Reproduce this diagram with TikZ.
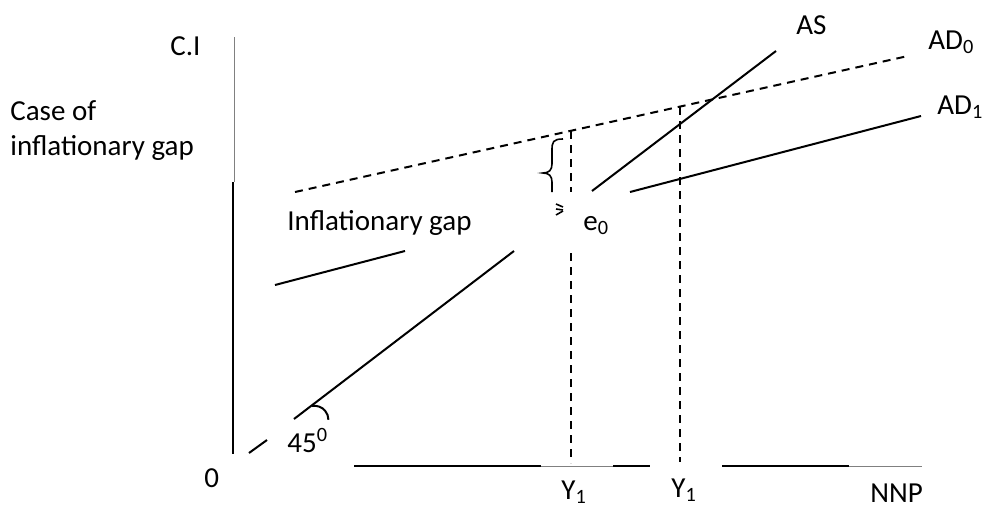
\documentclass[tikz,border=0pt]{standalone}
\usepackage{fontspec}
\setmainfont{Carlito}
\begin{document}
\begin{tikzpicture}[x=0.5pt, y=-0.5pt,
    nhan/.style={inner sep=0pt, anchor=base west, font=\fontsize{14.5}{17.5}\selectfont},
    duongliền/.style={line width=1pt},
    duongmanh/.style={line width=0.5pt, gray},
    netdut/.style={line width=1pt, dash pattern=on 4pt off 3pt}]
    % --- KHUNG HÌNH: KÍCH THƯỚC ẢNH GỐC ---
    \useasboundingbox (0,0) rectangle (982,509);

    % Trục tung C.I
    \draw[duongmanh] (234,37) -- (234,182);
    \draw[duongliền] (233,182) -- (233,454);
    % Trục hoành NNP (bị che từng đoạn)
    \draw[duongliền] (354,466) -- (541,466);
    \draw[duongmanh] (541,466) -- (613,466);
    \draw[duongliền] (613,466) -- (650,466);
    \draw[duongliền] (722,466) -- (849,466);
    \draw[duongmanh] (849,466) -- (922,466);

    % --- ĐƯỜNG AS (45 độ) ---
    \coordinate (as1) at (249,453);
    \coordinate (as2) at (267,440);
    \coordinate (as3) at (294,419);
    \coordinate (as4) at (514,251);
    \coordinate (as5) at (592,191);
    \coordinate (as6) at (776,51);
    \draw[duongliền] (as1) -- (as2);
    \draw[duongliền] (as3) -- (as4);
    \draw[duongliền] (as5) -- (as6);
    % Cung góc 45
    \draw[duongliền] (312,406) arc[start angle=-100, end angle=0, radius=14];

    % --- ĐƯỜNG AD0 (nét đứt) và AD1 ---
    \coordinate (ad0a) at (295,192);
    \coordinate (ad0b) at (908,56);
    \draw[netdut] (ad0a) -- (ad0b);
    \coordinate (ad1a) at (275,285);
    \coordinate (ad1b) at (405,251);
    \coordinate (ad1c) at (630,192);
    \coordinate (ad1d) at (921,116);
    \draw[duongliền] (ad1a) -- (ad1b);
    \draw[duongliền] (ad1c) -- (ad1d);

    % Đường gióng xuống Y1
    \draw[netdut] (571,131) -- (571,192);
    \draw[netdut] (571,253) -- (571,463);
    \draw[netdut] (680,107) -- (680,462);

    % Dấu ngoặc khe lạm phát
    \draw[line width=0.8pt] (563,139) .. controls (553,139) and (552,142) .. (552,150)
        -- (552,164) .. controls (552,170) and (549,173) .. (543,173)
        .. controls (549,173) and (552,176) .. (552,182) -- (552,192);
    \draw[line width=0.8pt] (556,204) -- (563,207);
    \draw[line width=0.8pt] (556,209) -- (563,210);
    \draw[line width=0.8pt] (556,215) -- (563,211);

    % --- NHÃN ---
    \node[nhan] (ci) at (170,55) {C.I};
    \node[nhan] (case) at (10,120) {Case of};
    \node[nhan] (infl) at (10,155) {inflationary gap};
    \node[nhan] (as) at (796,34) {AS};
    \node[nhan] (ad0) at (928,49) {AD\textsubscript{0}};
    \node[nhan] (ad1) at (937,114) {AD\textsubscript{1}};
    \node[nhan] (gap) at (287,230) {Inflationary gap};
    \node[nhan] (e0) at (583,230) {e\textsubscript{0}};
    \node[nhan] (goc) at (287,452) {45\textsuperscript{0}};
    \node[nhan] (goc0) at (204,487) {0};
    \node[nhan] (y1a) at (561,499) {Y\textsubscript{1}};
    \node[nhan] (y1b) at (671,497) {Y\textsubscript{1}};
    \node[nhan] (nnp) at (870,502) {NNP};
\end{tikzpicture}
\end{document}
